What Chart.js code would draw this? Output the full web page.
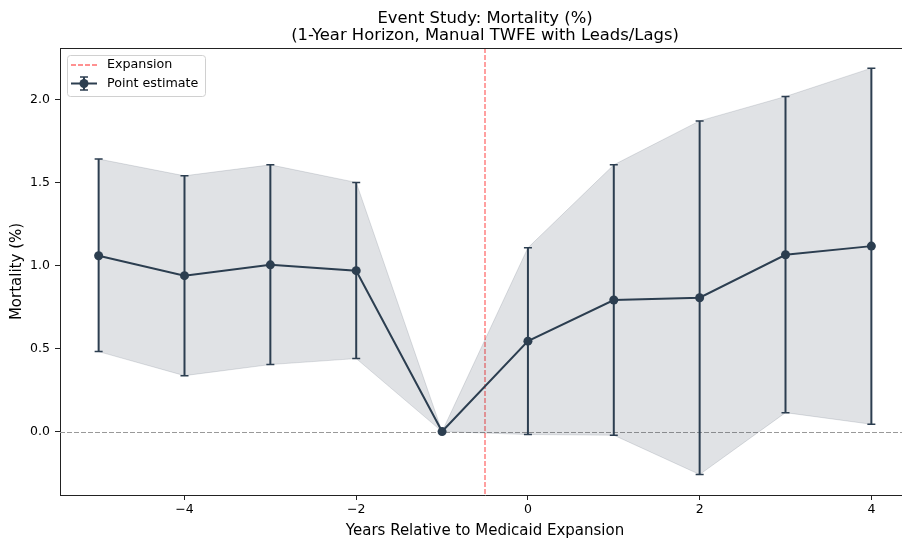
<!DOCTYPE html>
<html>
<head>
<meta charset="utf-8">
<script src="https://cdn.jsdelivr.net/npm/chart.js@4/dist/chart.umd.min.js"></script>
<style>
    html, body { margin: 0; padding: 0; background: #fff; }
    #wrap { width: 902px; height: 541px; overflow: hidden; }
</style>
</head>
<body>
<div id="wrap"><canvas id="esChart" width="920" height="541"></canvas></div>
<script>
// Event-time periods and estimates
const years = [-5, -4, -3, -2, -1, 0, 1, 2, 3, 4];
const estimates = [1.06, 0.94, 1.005, 0.97, 0, 0.545, 0.793, 0.807, 1.066, 1.118];
const ciLower = [0.482, 0.337, 0.404, 0.44, 0, -0.018, -0.022, -0.259, 0.114, 0.044];
const ciUpper = [1.643, 1.542, 1.608, 1.502, 0, 1.108, 1.608, 1.873, 2.02, 2.191];
const xTicks = [-4, -2, 0, 2, 4];
const yTicks = [0.0, 0.5, 1.0, 1.5, 2.0];
const expansionAt = -0.5;

const FONT = "'DejaVu Sans', sans-serif";
const NAVY = "#2c3e50";
const BAND = "rgba(44,62,80,0.15)";
const RED_DASH = "rgb(255,110,110)";

function pts(vals) {
    return years.map((x, i) => ({ x: x, y: vals[i] }));
}

// Error bars drawn just before the point-estimate line
const errorBars = {
    id: "errorBars",
    beforeDatasetDraw(chart, args) {
        if (args.index !== 0) return;
        const ctx = chart.ctx;
        const xs = chart.scales.x, ys = chart.scales.y;
        ctx.save();
        ctx.strokeStyle = NAVY;
        years.forEach((yr, i) => {
            if (ciLower[i] === ciUpper[i]) return;
            const px = xs.getPixelForValue(yr);
            const top = ys.getPixelForValue(ciUpper[i]);
            const bot = ys.getPixelForValue(ciLower[i]);
            ctx.lineWidth = 2;
            ctx.beginPath();
            ctx.moveTo(px, top); ctx.lineTo(px, bot);
            ctx.stroke();
            ctx.lineWidth = 1.5;
            ctx.beginPath();
            ctx.moveTo(px - 4, top); ctx.lineTo(px + 4, top);
            ctx.moveTo(px - 4, bot); ctx.lineTo(px + 4, bot);
            ctx.stroke();
        });
        ctx.restore();
    }
};

// Zero line and expansion line, under the data
const refLines = {
    id: "refLines",
    beforeDatasetsDraw(chart) {
        const ctx = chart.ctx;
        const a = chart.chartArea;
        const xs = chart.scales.x, ys = chart.scales.y;
        ctx.save();
        ctx.beginPath();
        ctx.rect(a.left, a.top, a.right - a.left, a.bottom - a.top);
        ctx.clip();
        ctx.setLineDash([5, 2]);
        ctx.lineWidth = 1;
        ctx.strokeStyle = "#999999";
        const y0 = Math.round(ys.getPixelForValue(0)) + 0.5;
        ctx.beginPath(); ctx.moveTo(a.left, y0); ctx.lineTo(a.right, y0); ctx.stroke();
        ctx.lineWidth = 1.3;
        ctx.strokeStyle = RED_DASH;
        const xe = xs.getPixelForValue(expansionAt);
        ctx.beginPath(); ctx.moveTo(xe, a.top); ctx.lineTo(xe, a.bottom); ctx.stroke();
        ctx.restore();
    }
};

// Top spine, title, legend
const decorations = {
    id: "decorations",
    afterDraw(chart) {
        const ctx = chart.ctx;
        const a = chart.chartArea;
        ctx.save();
        ctx.strokeStyle = "#222";
        ctx.lineWidth = 1;
        ctx.beginPath();
        ctx.moveTo(a.left, Math.round(a.top) + 0.5);
        ctx.lineTo(a.right, Math.round(a.top) + 0.5);
        ctx.stroke();

        // title
        ctx.fillStyle = "#000";
        ctx.textAlign = "center";
        ctx.textBaseline = "alphabetic";
        ctx.font = "16.4px " + FONT;
        const cx = (a.left + a.right) / 2;
        ctx.fillText("Event Study: Mortality (%)", cx, 22.5);
        ctx.fillText("(1-Year Horizon, Manual TWFE with Leads/Lags)", cx, 40);

        // legend
        const lx = 67, ly = 55, lw = 138, lh = 41;
        ctx.fillStyle = "rgba(255,255,255,0.8)";
        ctx.strokeStyle = "#d0d0d0";
        ctx.lineWidth = 1;
        ctx.beginPath();
        ctx.roundRect(lx + 0.5, ly + 0.5, lw, lh, 3);
        ctx.fill();
        ctx.stroke();

        ctx.setLineDash([5, 2]);
        ctx.strokeStyle = RED_DASH;
        ctx.lineWidth = 1.3;
        ctx.beginPath(); ctx.moveTo(71, 65); ctx.lineTo(97, 65); ctx.stroke();
        ctx.setLineDash([]);

        ctx.strokeStyle = NAVY;
        ctx.lineWidth = 2;
        ctx.beginPath();
        ctx.moveTo(71, 83.5); ctx.lineTo(97, 83.5);
        ctx.moveTo(84, 77); ctx.lineTo(84, 90);
        ctx.stroke();
        ctx.lineWidth = 1.5;
        ctx.beginPath();
        ctx.moveTo(80, 77); ctx.lineTo(88, 77);
        ctx.moveTo(80, 90); ctx.lineTo(88, 90);
        ctx.stroke();
        ctx.fillStyle = NAVY;
        ctx.beginPath(); ctx.arc(84, 83.5, 4.5, 0, Math.PI * 2); ctx.fill();

        ctx.fillStyle = "#000";
        ctx.textAlign = "left";
        ctx.textBaseline = "middle";
        ctx.font = "12.7px " + FONT;
        ctx.fillText("Expansion", 107, 65);
        ctx.fillText("Point estimate", 107, 83.5);
        ctx.restore();
    }
};

new Chart(document.getElementById("esChart"), {
    type: "scatter",
    data: {
        datasets: [
            {
                label: "Point estimate",
                data: pts(estimates),
                showLine: true,
                borderColor: NAVY,
                borderWidth: 2,
                pointRadius: 4.5,
                pointBackgroundColor: NAVY,
                pointBorderWidth: 0,
            },
            {
                label: "CI lower",
                data: pts(ciLower),
                showLine: true,
                borderColor: BAND,
                borderWidth: 1,
                pointRadius: 0,
                fill: false,
            },
            {
                label: "CI upper",
                data: pts(ciUpper),
                showLine: true,
                borderColor: BAND,
                borderWidth: 1,
                pointRadius: 0,
                backgroundColor: BAND,
                fill: "-1",
            },
        ],
    },
    options: {
        responsive: false,
        animation: false,
        layout: { padding: { top: 48, right: 10, left: 0, bottom: 0 } },
        plugins: {
            legend: { display: false },
            tooltip: { enabled: false },
            title: { display: false },
        },
        scales: {
            x: {
                type: "linear",
                min: -5.45,
                max: 4.45,
                afterBuildTicks: (s) => { s.ticks = xTicks.map((v) => ({ value: v })); },
                afterFit: (s) => { s.height = 46; },
                ticks: {
                    color: "#000",
                    font: { family: FONT, size: 12.5 },
                    padding: 2,
                    maxRotation: 0,
                    callback: (v) => (v < 0 ? "\u2212" + Math.abs(v) : String(v)),
                },
                grid: { drawOnChartArea: false, drawTicks: true, tickLength: 5, color: "#222" },
                border: { color: "#222", width: 1 },
                title: {
                    display: true,
                    text: "Years Relative to Medicaid Expansion",
                    color: "#000",
                    font: { family: FONT, size: 15 },
                    padding: { top: 0, bottom: 1 },
                },
            },
            y: {
                min: -0.3825,
                max: 2.3125,
                afterBuildTicks: (s) => { s.ticks = yTicks.map((v) => ({ value: v })); },
                afterFit: (s) => { s.width = 60; },
                ticks: {
                    color: "#000",
                    font: { family: FONT, size: 12.5 },
                    padding: 5,
                    callback: (v) => v.toFixed(1),
                },
                grid: { drawOnChartArea: false, drawTicks: true, tickLength: 5, color: "#222" },
                border: { color: "#222", width: 1 },
                title: {
                    display: true,
                    text: "Mortality (%)",
                    color: "#000",
                    font: { family: FONT, size: 15 },
                    padding: { top: 8, bottom: 0 },
                },
            },
        },
    },
    plugins: [refLines, errorBars, decorations],
});
</script>
</body>
</html>
